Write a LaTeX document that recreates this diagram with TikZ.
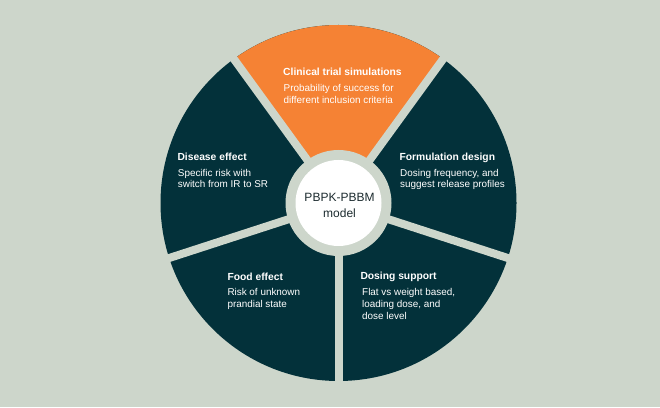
\documentclass[tikz,border=0pt]{standalone}
\usepackage{fontspec}
\setmainfont{Liberation Sans}
\definecolor{bgc}{HTML}{CDD6CB}
\definecolor{darkteal}{HTML}{03313A}
\definecolor{orng}{HTML}{F58234}
\definecolor{ctext}{HTML}{1C2B2F}
\begin{document}
\begin{tikzpicture}[x=1pt,y=1pt,
  ttl/.style={anchor=base west,inner sep=0pt,text=white,font=\fontsize{10.3}{12}\selectfont\bfseries},
  bdy/.style={anchor=base west,inner sep=0pt,text=white,align=left,font=\fontsize{9.9}{11.8}\selectfont},
  gapline/.style={draw=bgc,line width=8pt}]
\fill[bgc] (0,0) rectangle (660,407);
\useasboundingbox (0,0) rectangle (660,407);
\coordinate (C) at (338.5,204);
\fill[darkteal] (C) circle[radius=178];
\fill[orng] (C) -- ++(54:178) arc[start angle=54,end angle=126,radius=178] -- cycle;
\foreach \a in {54,126,198,270,342} \draw[gapline] (C) -- ++(\a:190);
\fill[bgc] (C) circle[radius=53];
\node[circle,fill=white,minimum size=86pt,inner sep=0pt] (hub) at (C) {};
\node[anchor=base,inner sep=0pt,align=center,text=ctext,font=\fontsize{12}{16}\selectfont] (hubtext) at (339.5,189.4) {PBPK-PBBM\\model};
% Clinical trial simulations
\node[ttl] (t1) at (283,331.4) {Clinical trial simulations};
\node[bdy] (b1) at (283.5,303.5) {Probability of success for\\different inclusion criteria};
% Disease effect
\node[ttl] (t2) at (177.3,246.7) {Disease effect};
\node[bdy] (b2) at (177.7,219.1) {Specific risk with\\switch from IR to SR};
% Formulation design
\node[ttl] (t3) at (399.3,246.7) {Formulation design};
\node[bdy] (b3) at (400,219.1) {Dosing frequency, and\\suggest release profiles};
% Food effect
\node[ttl] (t4) at (227.3,126.7) {Food effect};
\node[bdy] (b4) at (227.3,99.8) {Risk of unknown\\prandial state};
% Dosing support
\node[ttl] (t5) at (360.3,127.7) {Dosing support};
\node[bdy] (b5) at (362,87.7) {Flat vs weight based,\\loading dose, and\\dose level};
\end{tikzpicture}
\end{document}
